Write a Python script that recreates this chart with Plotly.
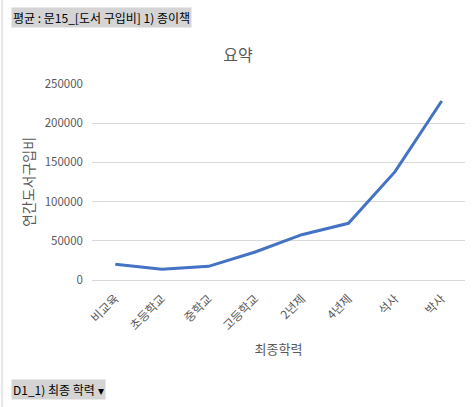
import plotly.graph_objects as go

# 최종학력별 연간 도서구입비 (종이책) 평균
categories = ["비교육", "초등학교", "중학교", "고등학교", "2년제", "4년제", "석사", "박사"]
values = [20000, 13600, 17400, 35700, 57800, 72300, 138200, 228300]
y_ticks = [0, 50000, 100000, 150000, 200000, 250000]

FONT = "Noto Sans CJK KR"
GRID = "#d9d9d9"
TXT = "#595959"

fig = go.Figure()
fig.add_trace(go.Scatter(
    x=categories, y=values,
    mode="lines",
    line=dict(color="#4472c4", width=3),
    hoverinfo="x+y",
))

fig.update_layout(
    width=476, height=407,
    margin=dict(l=92, r=11, t=84, b=127),
    paper_bgcolor="white", plot_bgcolor="white",
    font=dict(family=FONT, color=TXT, size=11),
    showlegend=False,
    title=dict(text="요약", x=0.5, xanchor="center", y=0.865, yanchor="middle",
               font=dict(size=16, color=TXT, family=FONT)),
)
fig.update_xaxes(
    type="category", range=[-0.5, len(categories) - 0.5],
    tickangle=-45, showgrid=False, automargin=False,
    showline=True, linecolor=GRID, linewidth=1,
    ticks="", ticklabelstandoff=6,
    tickfont=dict(size=12, color=TXT),
    title=dict(text="최종학력", font=dict(size=13, color=TXT), standoff=12),
)
fig.update_yaxes(
    range=[0, 250000], tickvals=y_ticks, ticktext=[str(v) for v in y_ticks],
    showgrid=True, gridcolor=GRID, gridwidth=1, zeroline=False, automargin=False,
    showline=False, ticks="", ticklabelstandoff=8,
    tickfont=dict(size=11.5, color=TXT),
    title=dict(text="연간도서구입비", font=dict(size=14, color=TXT), standoff=6),
)

# 좌측 테두리와 피벗 필드 버튼
fig.add_shape(type="line", xref="paper", yref="paper",
              x0=-(92 - 2) / 373, x1=-(92 - 2) / 373, y0=-127 / 196, y1=1 + 84 / 196,
              line=dict(color="#d0d0d0", width=1))
fig.add_annotation(text="평균 : 문15_[도서 구입비] 1) 종이책", xref="paper", yref="paper",
                   x=-(92 - 11) / 373, y=1 + (84 - 18) / 196, xanchor="left", yanchor="middle",
                   showarrow=False, bgcolor="#d4d4d4", borderpad=1,
                   font=dict(size=12, color="black", family=FONT))
fig.add_annotation(text="D1_1) 최종 학력 ▾", xref="paper", yref="paper",
                   x=-(92 - 11) / 373, y=-(389 - 280) / 196, xanchor="left", yanchor="middle",
                   showarrow=False, bgcolor="#d4d4d4", borderpad=1,
                   font=dict(size=12, color="black", family=FONT))

# 브라우저 기본 여백 제거
fig.write_html("out.html", config={"displayModeBar": False},
               post_script="document.body.style.margin='0px';")
